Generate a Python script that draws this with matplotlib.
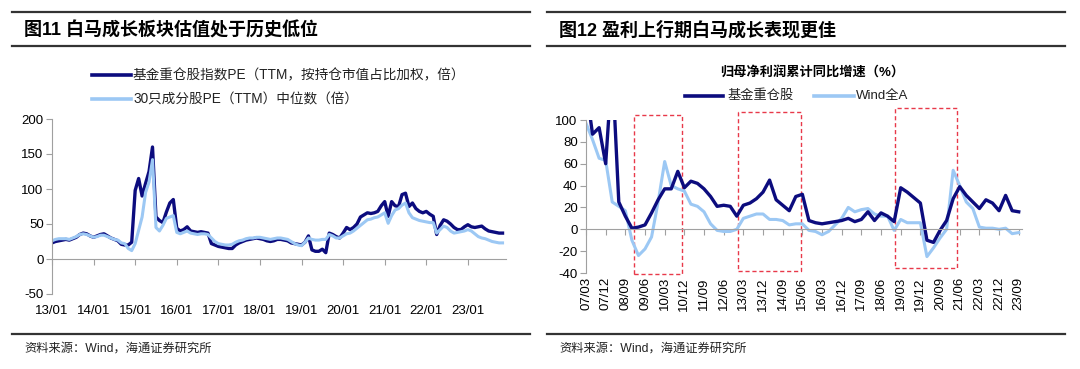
import numpy as np
import matplotlib
matplotlib.use("Agg")
import matplotlib.pyplot as plt
from matplotlib.lines import Line2D
from matplotlib.patches import Rectangle

plt.rcParams['font.family'] = ['Liberation Sans', 'Noto Sans CJK SC']
plt.rcParams['axes.unicode_minus'] = False

# ---- data: fig 11, monthly 2013/01 - 2023/11 ----
pe_fund = [23, 25, 26, 27, 28, 27, 29, 31, 35, 37, 36, 33,
           31, 33, 35, 36, 33, 30, 28, 26, 21, 20, 20, 24,
           98, 115, 90, 108, 125, 160, 60, 55, 52, 67, 80, 85,
           44, 40, 42, 46, 40, 39, 38, 39, 38, 37, 22, 20,
           18, 17, 16, 15, 15, 20, 23, 25, 27, 28, 29, 30,
           29, 28, 26, 25, 26, 28, 28, 27, 26, 23, 22, 21,
           20, 24, 33, 13, 11, 11, 14, 9, 37, 35, 32, 30,
           37, 45, 42, 45, 50, 60, 63, 66, 65, 66, 68, 76,
           82, 61, 82, 76, 75, 92, 94, 75, 80, 72, 68, 66,
           68, 64, 61, 35, 48, 56, 54, 50, 45, 42, 42, 46,
           49, 46, 45, 46, 47, 43, 40, 39, 38, 37, 37]
pe_median = [26, 28, 29, 29, 29, 28, 30, 32, 35, 36, 35, 33,
             31, 32, 34, 34, 32, 30, 28, 27, 23, 22, 15, 12,
             22, 41, 60, 95, 110, 142, 45, 40, 48, 58, 60, 62,
             38, 36, 38, 40, 37, 36, 35, 36, 36, 35, 30, 25,
             22, 21, 20, 20, 21, 24, 26, 27, 29, 30, 30, 31,
             31, 30, 29, 28, 29, 30, 30, 29, 28, 25, 22, 20,
             19, 24, 30, 28, 27, 27, 28, 28, 35, 33, 30, 30,
             33, 36, 37, 40, 44, 48, 52, 56, 57, 59, 60, 63,
             66, 51, 62, 70, 72, 77, 80, 66, 59, 57, 55, 54,
             53, 52, 52, 37, 42, 47, 45, 40, 37, 38, 39, 40,
             42, 40, 36, 32, 30, 29, 27, 25, 24, 23, 23]
left_xlabels = ['13/01', '14/01', '15/01', '16/01', '17/01', '18/01',
                '19/01', '20/01', '21/01', '22/01', '23/01']

# ---- data: fig 12, quarterly 2007Q1 - 2023Q3 ----
growth_fund = [130, 87, 93, 60, 150, 25, 12, 1, 2, 4, 15, 27,
               37, 37, 53, 38, 44, 42, 37, 30, 21, 22, 21, 12,
               22, 24, 28, 34, 45, 27, 22, 17, 30, 32, 8, 6,
               5, 6, 7, 8, 10, 7, 9, 16, 8, 15, 12, 7,
               38, 34, 29, 24, -10, -12, -1, 8, 28, 39, 31, 25,
               19, 27, 24, 17, 31, 17, 16]
growth_all = [97, 82, 65, 63, 25, 21, 17, -10, -24, -18, -7, 25,
              62, 40, 37, 35, 23, 21, 16, 5, -1, -2, -2, 0,
              10, 12, 14, 14, 9, 9, 8, 4, 5, 5, -1, -2,
              -5, -2, 4, 10, 20, 16, 18, 19, 14, 12, 12, -1,
              9, 6, 6, 6, -25, -17, -8, 0, 54, 40, 25, 19,
              2, 1, 1, 0, 1, -4, -3]
right_xlabels = ['07/03', '07/12', '08/09', '09/06', '10/03', '10/12', '11/09',
                 '12/06', '13/03', '13/12', '14/09', '15/06', '16/03', '16/12',
                 '17/09', '18/06', '19/03', '19/12', '20/09', '21/06', '22/03',
                 '22/12', '23/09']
# highlighted periods: (start quarter, end quarter, low, high)
highlights = [(7.3, 14.7, -41, 105), (23.2, 32.8, -38, 107), (47.1, 56.6, -35, 111)]

DARK = '#0C0C7E'
LIGHT = '#9CC8F4'
GRAY = '#A0A0A0'
RED = '#E8394A'
W, H = 1080, 369


def fx(x):
    return x / W


def fy(y):
    return 1 - y / H


def style_axis(ax, xticks, labels, rot):
    for s in ['top', 'right']:
        ax.spines[s].set_visible(False)
    ax.spines['left'].set_color(GRAY)
    ax.spines['bottom'].set_color(GRAY)
    ax.spines['bottom'].set_position(('data', 0))
    ax.set_xticks(xticks)
    ax.tick_params(axis='x', direction='out', length=4, color=GRAY, labelbottom=False)
    ax.tick_params(axis='y', direction='out', length=4, color=GRAY, labelsize=9.5, pad=2)
    sec = ax.secondary_xaxis('bottom')
    sec.set_xticks(xticks, labels=labels, rotation=rot)
    sec.spines['bottom'].set_visible(False)
    sec.tick_params(length=0, labelsize=9.5, pad=8 if rot == 0 else 3)


fig = plt.figure(figsize=(10.8, 3.69), dpi=100)

# header / footer rules and texts
for x0, x1 in [(12, 530), (547, 1065)]:
    for y in [12, 46, 334]:
        fig.add_artist(Line2D([fx(x0), fx(x1)], [fy(y), fy(y)], color='#333333', lw=1.6))
fig.text(fx(24), fy(30), '图11 白马成长板块估值处于历史低位', fontsize=13,
         fontweight='bold', va='center')
fig.text(fx(559), fy(30), '图12 盈利上行期白马成长表现更佳', fontsize=13,
         fontweight='bold', va='center')
fig.text(fx(24), fy(349), '资料来源：Wind，海通证券研究所', fontsize=8.8, va='center', color='#222222')
fig.text(fx(559), fy(349), '资料来源：Wind，海通证券研究所', fontsize=8.8, va='center', color='#222222')

# ---- left chart ----
ax1 = fig.add_axes([fx(52), fy(294), (506 - 52) / W, (294 - 119) / H])
m = np.arange(len(pe_fund))
ax1.plot(m, pe_fund, color=DARK, lw=2.4)
ax1.plot(m, pe_median, color=LIGHT, lw=2.2)
ax1.set_xlim(0, 131)
ax1.set_ylim(-50, 200)
ax1.set_yticks([-50, 0, 50, 100, 150, 200])
style_axis(ax1, np.arange(0, 121, 12), left_xlabels, 0)

for y, c, t in [(75, DARK, '基金重仓股指数PE（TTM，按持仓市值占比加权，倍）'),
                (99, LIGHT, '30只成分股PE（TTM）中位数（倍）')]:
    fig.add_artist(Line2D([fx(92), fx(131)], [fy(y), fy(y)], color=c, lw=2.6))
    fig.text(fx(133), fy(y), t, fontsize=9.8, va='center', color='#222222')

# ---- right chart ----
ax2 = fig.add_axes([fx(586), fy(273), (1022 - 586) / W, (273 - 120) / H])
q = np.arange(len(growth_fund))
ax2.plot(q, growth_all, color=LIGHT, lw=2.2)
ax2.plot(q, growth_fund, color=DARK, lw=2.4)
ax2.set_xlim(0, 66.5)
ax2.set_ylim(-40, 100)
ax2.set_yticks(np.arange(-40, 101, 20))
style_axis(ax2, np.arange(0, 67, 3), right_xlabels, 90)
for x0, x1, lo, hi in highlights:
    ax2.add_patch(Rectangle((x0, lo), x1 - x0, hi - lo, fill=False, ec=RED,
                            lw=1.0, ls=(0, (3, 2)), clip_on=False))

fig.text(fx(812), fy(72), '归母净利润累计同比增速（%）', fontsize=9.5,
         fontweight='bold', ha='center', va='center')
fig.add_artist(Line2D([fx(685), fx(723)], [fy(96), fy(96)], color=DARK, lw=2.6))
fig.text(fx(727), fy(96), '基金重仓股', fontsize=9.5, va='center', color='#222222')
fig.add_artist(Line2D([fx(814), fx(854)], [fy(96), fy(96)], color=LIGHT, lw=2.6))
fig.text(fx(856), fy(96), 'Wind全A', fontsize=9.5, va='center', color='#222222')

fig.savefig('out.png', dpi=100)
